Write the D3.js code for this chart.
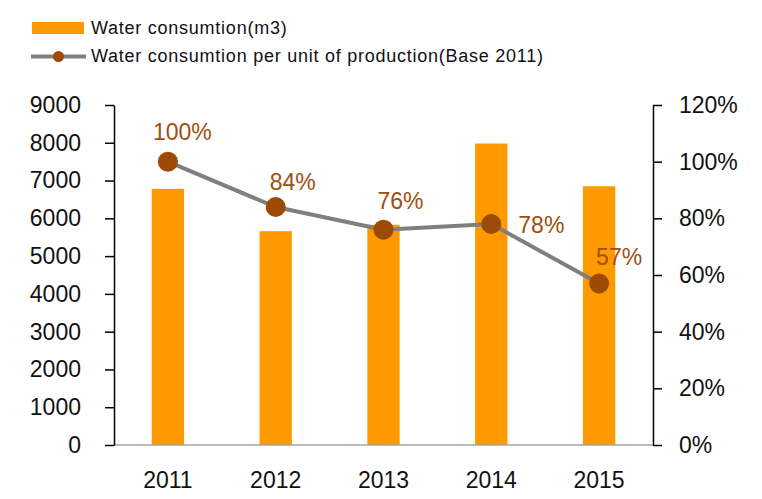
<!DOCTYPE html>
<html>
<head>
<meta charset="utf-8">
<script src="https://cdn.jsdelivr.net/npm/d3@7"></script>
<style>
  body { margin: 0; background: #fff; }
  svg { display: block; font-family: "Liberation Sans", Arial, sans-serif; }
</style>
</head>
<body>
<svg id="chart" width="762" height="499"></svg>
<script>
const years = ['2011', '2012', '2013', '2014', '2015'];
const consumption = [6780, 5660, 5830, 7980, 6850];
const perUnit = [1.00, 0.84, 0.76, 0.78, 0.57];
const leftTicks = [0, 1000, 2000, 3000, 4000, 5000, 6000, 7000, 8000, 9000];
const rightTicks = [0, 0.2, 0.4, 0.6, 0.8, 1.0, 1.2];
// label nudges (px) relative to each marker, matches the hand-placed labels
const labelOffsets = [[-15, -22], [-6, -17], [-6, -21], [27, 9], [-3, -19]];

const margin = { top: 105, right: 109, bottom: 54, left: 114 };
const W = 762, H = 499;
const width = W - margin.left - margin.right;
const height = H - margin.top - margin.bottom;

const svg = d3.select('#chart');
const g = svg.append('g').attr('transform', `translate(${margin.left},${margin.top})`);

const x = d3.scaleBand().domain(years).range([0, width]).paddingInner(0.7).paddingOuter(0.35);
const y = d3.scaleLinear().domain([0, 9000]).range([height, 0]);
const y2 = d3.scaleLinear().domain([0, 1.2]).range([height, 0]);

// bars
g.selectAll('.bar').data(years).join('rect')
  .attr('x', d => x(d)).attr('width', x.bandwidth())
  .attr('y', (d, i) => y(consumption[i]))
  .attr('height', (d, i) => height - y(consumption[i]))
  .attr('fill', '#FF9900');

// baseline
g.append('line').attr('x1', 0).attr('x2', width).attr('y1', height).attr('y2', height)
  .attr('stroke', '#A6A6A6').attr('stroke-width', 1.5);

// left axis
g.append('g')
  .call(d3.axisLeft(y).tickValues(leftTicks).tickSize(9).tickPadding(24).tickSizeOuter(0)
    .tickFormat(d3.format('d')))
  .call(a => a.select('.domain').attr('stroke', '#000').attr('stroke-width', 1.5))
  .call(a => a.selectAll('.tick line').attr('stroke', '#000').attr('stroke-width', 1.5))
  .call(a => a.selectAll('.tick text').attr('fill', '#111').attr('font-size', '23px')
    .attr('font-family', '"Liberation Sans", Arial, sans-serif'));

// right axis
g.append('g').attr('transform', `translate(${width},0)`)
  .call(d3.axisRight(y2).tickValues(rightTicks).tickSize(9).tickPadding(17).tickSizeOuter(0)
    .tickFormat(d3.format('.0%')))
  .call(a => a.select('.domain').attr('stroke', '#000').attr('stroke-width', 1.5))
  .call(a => a.selectAll('.tick line').attr('stroke', '#000').attr('stroke-width', 1.5))
  .call(a => a.selectAll('.tick text').attr('fill', '#111').attr('font-size', '23px')
    .attr('font-family', '"Liberation Sans", Arial, sans-serif'));

// x labels
g.selectAll('.xlab').data(years).join('text')
  .attr('x', d => x(d) + x.bandwidth() / 2).attr('y', height + 43)
  .attr('text-anchor', 'middle').attr('fill', '#111').attr('font-size', '23px')
  .text(d => d);

// line
const cx = d => x(d) + x.bandwidth() / 2;
g.append('path').datum(years)
  .attr('fill', 'none').attr('stroke', '#7F7F7F').attr('stroke-width', 4)
  .attr('d', d3.line().x(d => cx(d)).y((d, i) => y2(perUnit[i])));

g.selectAll('.dot').data(years).join('circle')
  .attr('cx', d => cx(d)).attr('cy', (d, i) => y2(perUnit[i]))
  .attr('r', 10).attr('fill', '#9C4A06');

g.selectAll('.plab').data(years).join('text')
  .attr('x', (d, i) => cx(d) + labelOffsets[i][0])
  .attr('y', (d, i) => y2(perUnit[i]) + labelOffsets[i][1])
  .attr('fill', '#9E500F').attr('font-size', '23px')
  .text((d, i) => d3.format('.0%')(perUnit[i]));

// legend
const leg = svg.append('g').attr('font-size', '18px').attr('letter-spacing', '0.75px');
leg.append('rect').attr('x', 32).attr('y', 22).attr('width', 52).attr('height', 12).attr('fill', '#FF9900');
leg.append('text').attr('x', 91).attr('y', 34).attr('fill', '#111')
  .text('Water consumtion(m3)');
leg.append('line').attr('x1', 31).attr('x2', 86).attr('y1', 56.5).attr('y2', 56.5)
  .attr('stroke', '#7F7F7F').attr('stroke-width', 4);
leg.append('circle').attr('cx', 58.5).attr('cy', 56.5).attr('r', 5.5).attr('fill', '#9C4A06');
leg.append('text').attr('x', 91).attr('y', 62).attr('fill', '#111')
  .text('Water consumtion per unit of production(Base 2011)');
</script>
</body>
</html>
